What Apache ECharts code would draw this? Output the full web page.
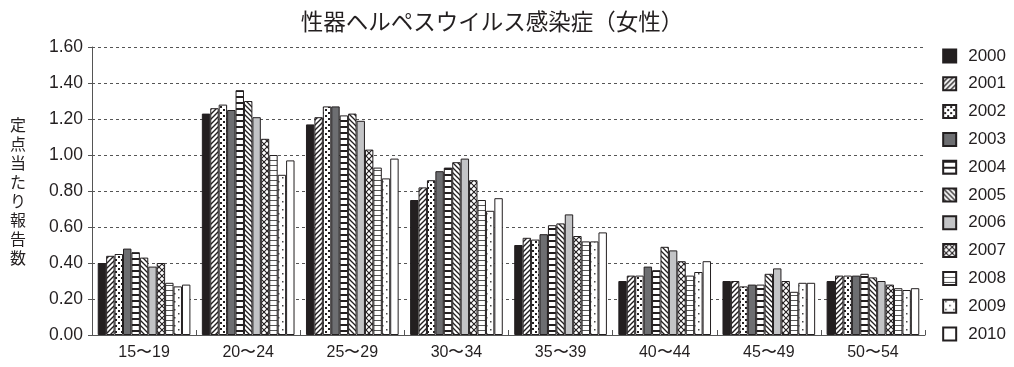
<!DOCTYPE html>
<html>
<head>
<meta charset="utf-8">
<script src="https://cdn.jsdelivr.net/npm/echarts@6/dist/echarts.min.js"></script>
<style>
  html, body { margin: 0; padding: 0; background: #fff; }
  #chart { width: 1014px; height: 367px; }
</style>
</head>
<body>
<div id="chart"></div>
<script>
// Age groups on the category axis
const ageGroups = ['15〜19', '20〜24', '25〜29', '30〜34', '35〜39', '40〜44', '45〜49', '50〜54'];
// Survey years, one series each
const years = ['2000', '2001', '2002', '2003', '2004', '2005', '2006', '2007', '2008', '2009', '2010'];
// Reports per sentinel site, by year, for each age group
const v2000 = [0.40, 1.23, 1.17, 0.75, 0.50, 0.30, 0.30, 0.30];
const v2001 = [0.44, 1.26, 1.21, 0.82, 0.54, 0.33, 0.30, 0.33];
const v2002 = [0.45, 1.28, 1.27, 0.86, 0.53, 0.33, 0.27, 0.33];
const v2003 = [0.48, 1.25, 1.27, 0.91, 0.56, 0.38, 0.28, 0.33];
const v2004 = [0.46, 1.36, 1.22, 0.93, 0.61, 0.36, 0.28, 0.34];
const v2005 = [0.43, 1.30, 1.23, 0.96, 0.62, 0.49, 0.34, 0.32];
const v2006 = [0.38, 1.21, 1.19, 0.98, 0.67, 0.47, 0.37, 0.30];
const v2007 = [0.40, 1.09, 1.03, 0.86, 0.55, 0.41, 0.30, 0.28];
const v2008 = [0.29, 1.00, 0.93, 0.75, 0.52, 0.33, 0.24, 0.26];
const v2009 = [0.27, 0.89, 0.87, 0.69, 0.52, 0.35, 0.29, 0.25];
const v2010 = [0.28, 0.97, 0.98, 0.76, 0.57, 0.41, 0.29, 0.26];
const yearValues = [v2000, v2001, v2002, v2003, v2004, v2005, v2006, v2007, v2008, v2009, v2010];
// Y axis ticks
const yTicks = ['0.00', '0.20', '0.40', '0.60', '0.80', '1.00', '1.20', '1.40', '1.60'];

const INK = '#231f20';

// Build a repeating fill from a small canvas tile
function tile(size, draw) {
  const c = document.createElement('canvas');
  c.width = size; c.height = size;
  const ctx = c.getContext('2d');
  ctx.fillStyle = '#fff';
  ctx.fillRect(0, 0, size, size);
  draw(ctx, size);
  return { image: c, repeat: 'repeat' };
}
function slash(ctx, s, w, color) {
  ctx.strokeStyle = color; ctx.lineWidth = w;
  ctx.beginPath();
  ctx.moveTo(-1, s + 1); ctx.lineTo(s + 1, -1);
  ctx.moveTo(-2, 2); ctx.lineTo(2, -2);
  ctx.moveTo(s - 2, s + 2); ctx.lineTo(s + 2, s - 2);
  ctx.stroke();
}
function backslash(ctx, s, w, color) {
  ctx.strokeStyle = color; ctx.lineWidth = w;
  ctx.beginPath();
  ctx.moveTo(-1, -1); ctx.lineTo(s + 1, s + 1);
  ctx.moveTo(s - 2, -2); ctx.lineTo(s + 2, 2);
  ctx.moveTo(-2, s - 2); ctx.lineTo(2, s + 2);
  ctx.stroke();
}

const fills = [
  INK,
  tile(5, (ctx, s) => slash(ctx, s, 1.4, INK)),
  tile(6, (ctx) => { ctx.fillStyle = INK; ctx.fillRect(1, 1, 2, 2); ctx.fillRect(4, 4, 2, 2); }),
  '#6d6e71',
  tile(6, (ctx) => { ctx.fillStyle = INK; ctx.fillRect(0, 0, 6, 2); }),
  tile(5, (ctx, s) => backslash(ctx, s, 1.3, INK)),
  '#c3c4c6',
  tile(6, (ctx, s) => { slash(ctx, s, 1.1, INK); backslash(ctx, s, 1.1, INK); }),
  tile(5, (ctx) => { ctx.fillStyle = '#555'; ctx.fillRect(0, 0, 5, 1); }),
  tile(8, (ctx) => { ctx.fillStyle = '#444'; ctx.fillRect(2, 1, 1.5, 1.5); ctx.fillRect(6, 5, 1.5, 1.5); }),
  '#ffffff'
];

const FONT = 'Liberation Sans, Arial, sans-serif';
const CJK = 'Noto Sans CJK JP, sans-serif';

const chart = echarts.init(document.getElementById('chart'), null, { renderer: 'canvas' });
chart.setOption({
  animation: false,
  backgroundColor: '#fff',
  title: {
    text: '性器ヘルペスウイルス感染症（女性）',
    left: 487, top: 5, textAlign: 'center',
    textStyle: { fontFamily: CJK, fontSize: 22.5, fontWeight: 'normal', color: '#231f20' }
  },
  legend: {
    orient: 'vertical',
    right: 3, top: 42.5,
    itemWidth: 13, itemHeight: 13, itemGap: 10.8,
    icon: 'rect',
    data: years,
    textStyle: { fontFamily: FONT, fontSize: 17, color: '#231f20', padding: [0, 0, 0, 7] }
  },
  graphic: [{
    type: 'text',
    left: 10, top: 115,
    style: {
      text: '定\n点\n当\nた\nり\n報\n告\n数',
      font: '16px ' + CJK,
      lineHeight: 19,
      fill: '#231f20'
    }
  }],
  grid: { left: 92, right: 89, top: 47, bottom: 32, containLabel: false },
  xAxis: {
    type: 'category',
    data: ageGroups,
    axisLine: { lineStyle: { color: '#555', width: 1 } },
    axisTick: { show: true, inside: true, length: 5, lineStyle: { color: '#555' } },
    axisLabel: { fontFamily: FONT, fontSize: 16, color: '#231f20', margin: 10 }
  },
  yAxis: {
    type: 'value',
    min: 0, max: 1.6, interval: 0.2,
    axisLine: { show: true, lineStyle: { color: '#555', width: 1 } },
    axisTick: { show: true, length: 4, lineStyle: { color: '#555' } },
    axisLabel: {
      fontFamily: FONT, fontSize: 17.5, color: '#231f20', margin: 9,
      formatter: (v) => yTicks[Math.round(v / 0.2)]
    },
    splitLine: { show: true, lineStyle: { color: '#555', type: [3, 3], width: 1 } }
  },
  series: years.map((y, i) => ({
    name: y,
    type: 'bar',
    data: yearValues[i],
    barGap: '0%',
    barCategoryGap: '11%',
    itemStyle: { color: fills[i], borderColor: INK, borderWidth: 1 }
  }))
});
</script>
</body>
</html>
